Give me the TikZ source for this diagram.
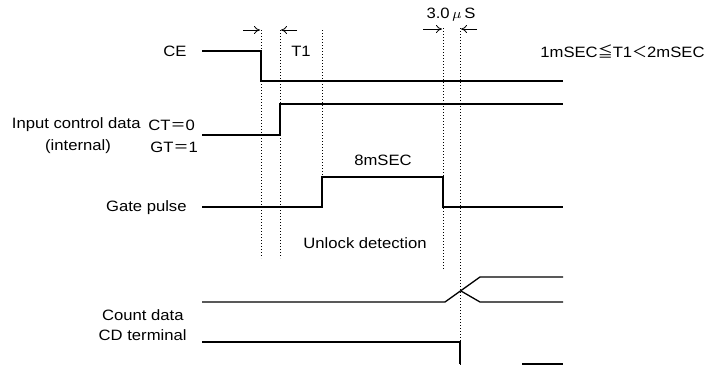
\documentclass[tikz,border=0pt]{standalone}
\usepackage{fontspec}
\setmainfont{Liberation Sans}[FakeStretch=1.11]
\newfontfamily\cjk{Noto Sans CJK JP}
\usetikzlibrary{arrows.meta}

\begin{document}
\begin{tikzpicture}[x=0.5pt, y=-0.5pt,
    wave/.style={line width=0.65pt},
    guide/.style={line width=0.4pt, dash pattern=on 0.6pt off 0.9pt},
    dim/.style={-{To[length=3pt,width=4pt]}, line width=0.4pt},
    lbl/.style={font=\fontsize{7.5}{9}\selectfont, inner sep=0pt}]
      \useasboundingbox (0,0) rectangle (712,365);

      % Signal names on the left
      \node[lbl, anchor=east] (ce) at (187,51) {CE};
      \node[lbl, anchor=east] (icd) at (141,125) {Input control data};
      \node[lbl] (int) at (78,147) {(internal)};
      \node[lbl, anchor=west] (ct) at (148,125) {CT{\cjk ＝}0};
      \node[lbl, anchor=west] (gt) at (150,147) {GT{\cjk ＝}1};
      \node[lbl, anchor=east] (gate) at (187,208) {Gate pulse};
      \node[lbl, anchor=east] (cnt) at (184,315) {Count data};
      \node[lbl, anchor=east] (cdt) at (187,335) {CD terminal};

      % Waveforms
      \draw[wave] (202,51) -- (261,51) -- (261,81) -- (563,81);
      \draw[wave] (202,135) -- (280,135) -- (280,104) -- (563,104);
      \draw[wave] (202,207) -- (322,207) -- (322,177) -- (443,177)
        -- (443,207) -- (563,207);
      \draw[wave] (202,302) -- (445,302) -- (480,277) -- (563,277);
      \draw[wave] (461,291) -- (480,302) -- (563,302);
      \draw[wave] (202,342) -- (460,342) -- (460,364);
      \draw[wave] (522,364) -- (563,364);

      % Dotted timing guides
      \draw[guide] (261,30) -- (261,258);
      \draw[guide] (280,30) -- (280,258);
      \draw[guide] (322,30) -- (322,177);
      \draw[guide] (443,28) -- (443,270);
      \draw[guide] (460,28) -- (460,365);

      % T1 and 3.0 us marks
      \draw[dim] (243,30) -- (260,30);
      \draw[dim] (297,30) -- (281,30);
      \draw[dim] (423,29) -- (442,29);
      \draw[dim] (477,29) -- (461,29);
      \node[lbl] (t1) at (301,51) {T1};
      \node[lbl] (us) at (451,15) {3.0\,$\mu$\,S};

      % Notes
      \node[lbl] (pw) at (383,160) {8mSEC};
      \node[lbl] (unl) at (365,243) {Unlock detection};
      \node[lbl, anchor=west] (rng) at (540,51) {1mSEC{\cjk ≦}T1{\cjk ＜}2mSEC};
    \end{tikzpicture}
\end{document}
